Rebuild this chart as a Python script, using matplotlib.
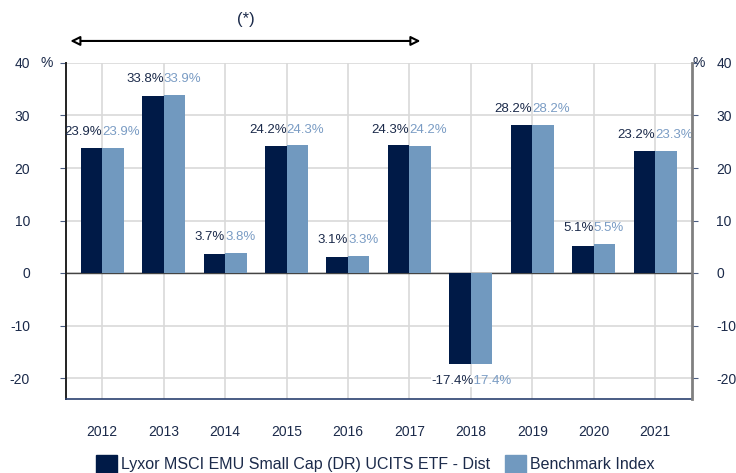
import matplotlib
matplotlib.use("Agg")
import matplotlib.pyplot as plt
import numpy as np
from matplotlib.patches import Rectangle

plt.rcParams['font.family'] = ['Liberation Sans', 'DejaVu Sans']
plt.rcParams['axes.unicode_minus'] = False

years = ['2012', '2013', '2014', '2015', '2016', '2017', '2018', '2019', '2020', '2021']
fund = [23.9, 33.8, 3.7, 24.2, 3.1, 24.3, -17.4, 28.2, 5.1, 23.2]
bench = [23.9, 33.9, 3.8, 24.3, 3.3, 24.2, -17.4, 28.2, 5.5, 23.3]
fund_name = 'Lyxor MSCI EMU Small Cap (DR) UCITS ETF - Dist'
bench_name = 'Benchmark Index'
yticks = [-20, -10, 0, 10, 20, 30, 40]

dark = '#001A47'
light = '#7199BF'
text_col = '#1B2A4A'
light_text = '#7A9CC4'

fig = plt.figure(figsize=(7.36, 4.73), dpi=100)
ax = fig.add_axes([66/736, 1-399/473, (692-66)/736, (399-63)/473])

x = np.arange(len(years))
w = 0.35
ax.bar(x - w/2, fund, w, color=dark, zorder=3)
ax.bar(x + w/2, bench, w, color=light, zorder=3)

ax.set_xlim(-0.59, 9.6)
ax.set_ylim(-24, 40)
ax.set_yticks(yticks)
ax.set_xticks(x)
ax.set_xticklabels(years)
ax.grid(True, color='#D9D9D9', linewidth=1.2, zorder=0)
ax.axhline(0, color='#444444', linewidth=1.0, zorder=2)

ax.spines['top'].set_visible(False)
ax.spines['right'].set_visible(False)
ax.spines['left'].set_color('#222222')
ax.spines['left'].set_linewidth(1.4)
ax.spines['bottom'].set_color('#2B4170')
ax.spines['bottom'].set_linewidth(1.2)

ax.tick_params(axis='x', length=0, pad=19, labelsize=10, labelcolor=text_col)
ax.tick_params(axis='y', direction='out', length=4.5, color='#4A5C80', labelsize=10,
               labelcolor=text_col, pad=21.5)

ax2 = ax.twinx()
ax2.set_ylim(-24, 40)
ax2.set_yticks(yticks)
for s in ['top', 'left', 'bottom']:
    ax2.spines[s].set_visible(False)
ax2.spines['right'].set_color('#808080')
ax2.spines['right'].set_linewidth(2.0)
ax2.tick_params(axis='y', direction='out', length=4.5, color='#4A5C80', labelsize=10,
                labelcolor=text_col, pad=13)

# percent signs
ax.annotate('%', xy=(0, 40), xycoords=('axes fraction', 'data'), xytext=(-14, 0),
            textcoords='offset points', ha='center', va='center', fontsize=10, color=text_col,
            annotation_clip=False)
ax.annotate('%', xy=(1, 40), xycoords=('axes fraction', 'data'), xytext=(4.5, 0),
            textcoords='offset points', ha='center', va='center', fontsize=10, color=text_col,
            annotation_clip=False)

# value labels
for i, (f, b) in enumerate(zip(fund, bench)):
    if f >= 0:
        ax.annotate(f'{f:.1f}%', xy=(i, max(f, b)), xytext=(0, 7), textcoords='offset points',
                    ha='right', va='bottom', fontsize=9.5, color=text_col, zorder=5)
        ax.annotate(f'{b:.1f}%', xy=(i, max(f, b)), xytext=(0, 7), textcoords='offset points',
                    ha='left', va='bottom', fontsize=9.5, color=light_text, zorder=5)
    else:
        ax.annotate(f'{b:.1f}%', xy=(i, min(f, b)), xytext=(-1, -8), textcoords='offset points',
                    ha='left', va='top', fontsize=9.5, color=light_text, zorder=5)
        ax.annotate(f'{f:.1f}%', xy=(i, min(f, b)), xytext=(2, -8), textcoords='offset points',
                    ha='right', va='top', fontsize=9.5, color=text_col, zorder=6,
                    bbox=dict(boxstyle='square,pad=0', fc='white', ec='none'))

# period arrow
ax.annotate('', xy=(-0.52, 44.2), xytext=(5.18, 44.2), xycoords='data',
            arrowprops=dict(arrowstyle='<|-|>', color='black', fc='white', lw=1.5,
                            mutation_scale=14, shrinkA=0, shrinkB=0),
            annotation_clip=False)
ax.text(2.33, 48.2, '(*)', ha='center', va='center', fontsize=12, color=text_col, clip_on=False)

# legend
fig.patches.append(Rectangle((96/736, 0), 21/736, 18/473, transform=fig.transFigure,
                             color=dark, figure=fig))
fig.text(121/736, 9/473, fund_name, ha='left', va='center', fontsize=11.5, color=text_col)
fig.patches.append(Rectangle((505/736, 0), 21/736, 18/473, transform=fig.transFigure,
                             color=light, figure=fig))
fig.text(530/736, 9/473, bench_name, ha='left', va='center', fontsize=11.5, color=text_col)

fig.savefig('out.png', dpi=100)
